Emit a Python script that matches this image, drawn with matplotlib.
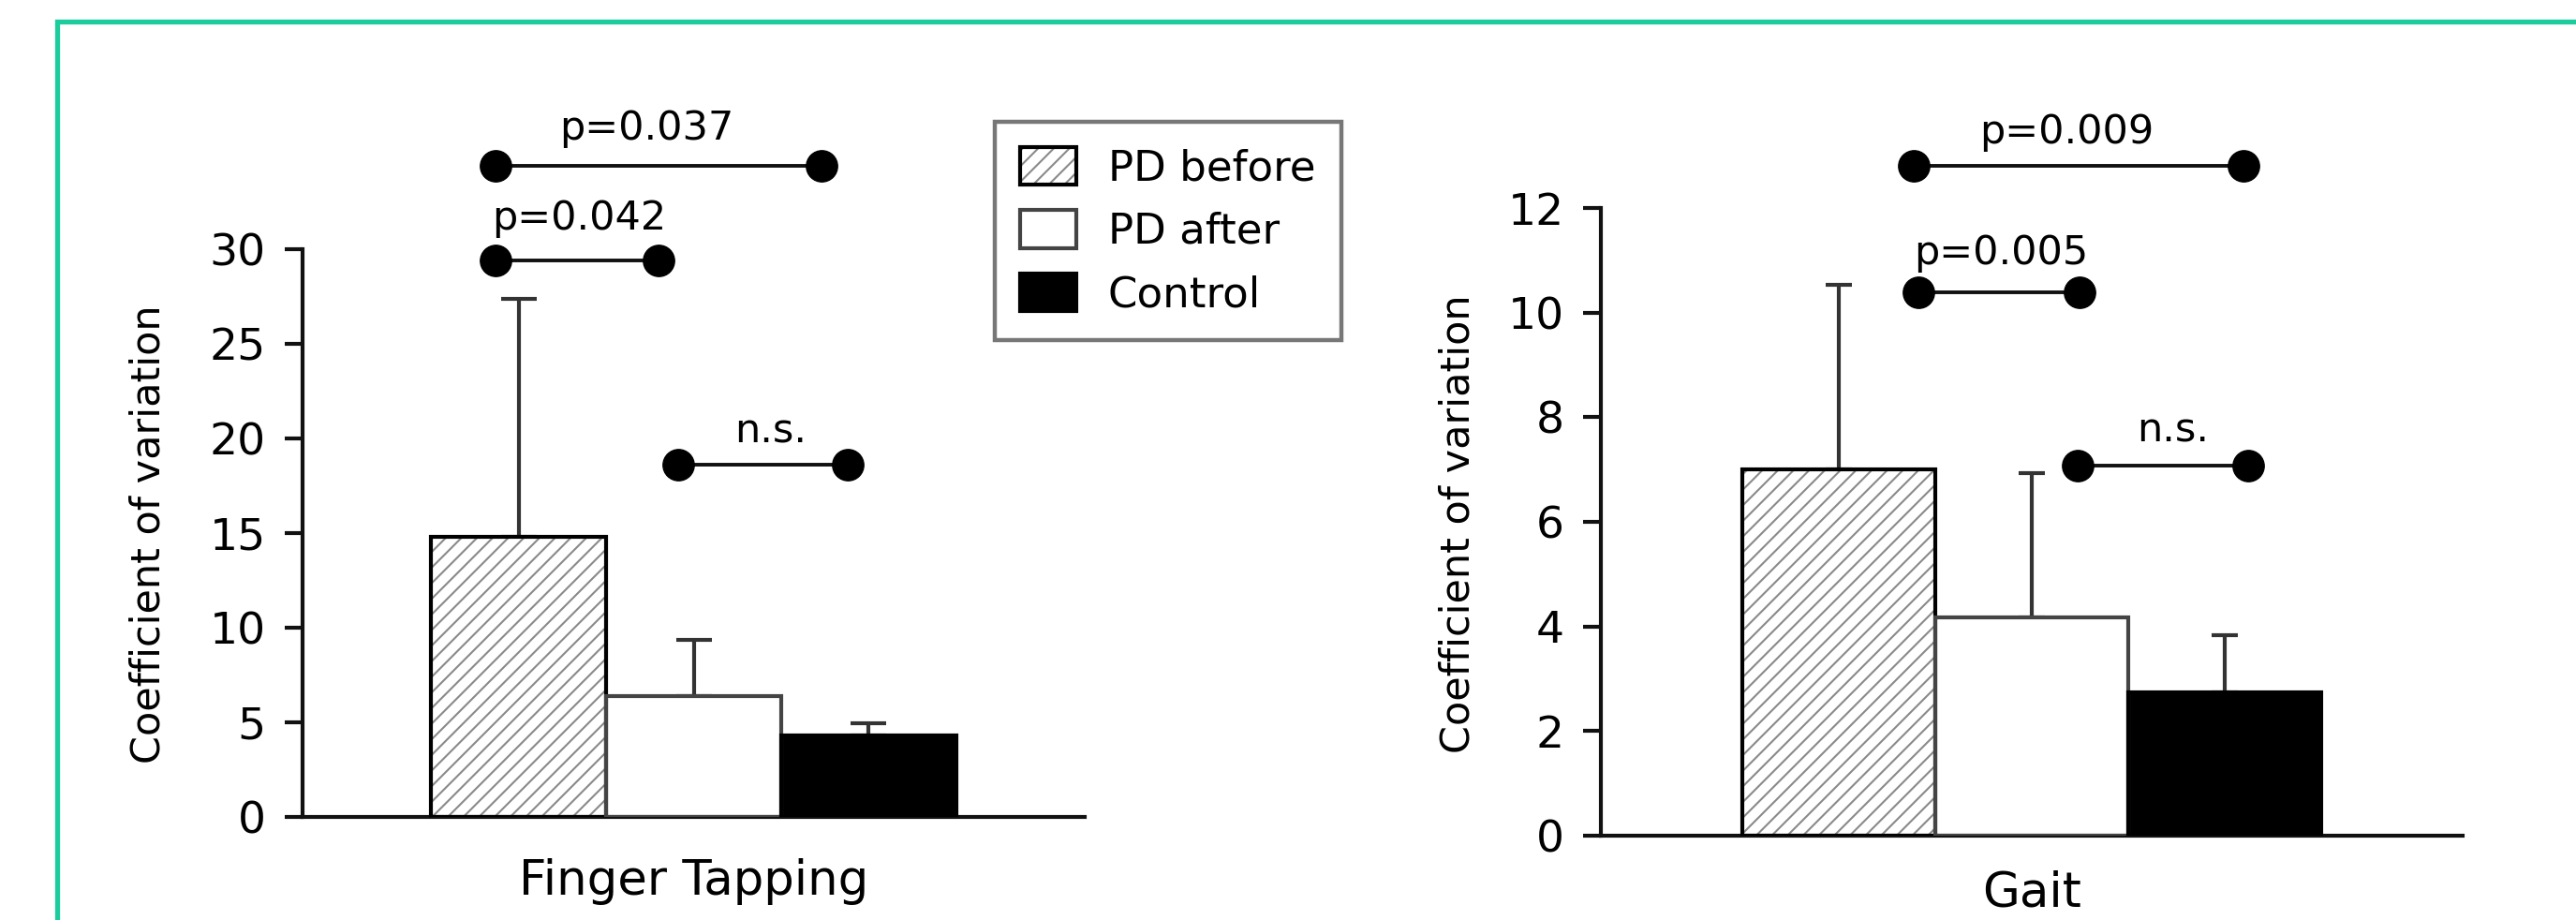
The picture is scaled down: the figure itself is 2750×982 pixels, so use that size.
import matplotlib
matplotlib.use("Agg")
import matplotlib.pyplot as plt
from matplotlib.patches import Patch, Rectangle
import numpy as np

# ---------------- data ----------------
groups = ["PD before", "PD after", "Control"]
tapping_mean = [14.8, 6.4, 4.3]
tapping_err = [12.6, 2.95, 0.65]
gait_mean = [7.0, 4.18, 2.74]
gait_err = [3.54, 2.75, 1.1]
tapping_ticks = [0, 5, 10, 15, 20, 25, 30]
gait_ticks = [0, 2, 4, 6, 8, 10, 12]
tapping_p = ["p=0.037", "p=0.042", "n.s."]
gait_p = ["p=0.009", "p=0.005", "n.s."]
panel_titles = ["Finger Tapping", "Gait"]
ylabel = "Coefficient of variation"

# ---------------- layout / style ----------------
W, H = 2750, 982
plt.rcParams["font.family"] = ["DejaVu Sans"]
plt.rcParams["hatch.linewidth"] = 1.5

fig = plt.figure(figsize=(W / 100, H / 100), dpi=100)
fig.patch.set_facecolor("white")

# teal frame (left and top visible)
fig.patches.append(Rectangle((60.5 / W, -0.5), 1.5, 1.5 - 22.5 / H,
                             transform=fig.transFigure, fill=False,
                             edgecolor="#1dcc9c", linewidth=3.8, zorder=0))

axL = fig.add_axes([323 / W, (H - 872) / H, 835 / W, 606 / H])
axR = fig.add_axes([1709 / W, (H - 892) / H, 920 / W, 670 / H])

x = np.arange(len(groups))
fills = ["white", "white", "black"]
outline_cols = ["black", "#444444", "black"]
hatches = ["//", "", ""]


def draw_panel(ax, means, errs, ticks, capsize):
    base = ax.bar(x, means, width=1.0, color=fills, edgecolor="#8a8a8a",
                  linewidth=0, zorder=2)
    for p, h in zip(base, hatches):
        p.set_hatch(h)
    ax.bar(x, means, width=1.0, fill=False, edgecolor=outline_cols,
           linewidth=3, zorder=3)
    ax.errorbar(x, means, yerr=[np.zeros(len(means)), errs], fmt="none",
                ecolor="#333333", elinewidth=3.0, capsize=capsize,
                capthick=3.0, zorder=1)
    ax.set_xlim(-1.235, 3.235)
    ax.set_ylim(ticks[0], ticks[-1])
    ax.set_yticks(ticks)
    ax.set_xticks([])
    for s in ["top", "right"]:
        ax.spines[s].set_visible(False)
    for s in ["left", "bottom"]:
        ax.spines[s].set_linewidth(3)
        ax.spines[s].set_color("#111111")
    ax.tick_params(axis="y", direction="out", length=13.7, width=3,
                   pad=14.5, labelsize=34, color="#111111")
    ax.set_facecolor("none")
    return base


barsL = draw_panel(axL, tapping_mean, tapping_err, tapping_ticks, 13.7)
barsR = draw_panel(axR, gait_mean, gait_err, gait_ticks, 10.4)

# axis labels
axL.set_ylabel(ylabel, fontsize=31, va="center")
axL.yaxis.set_label_coords(-0.1976, 0.498)
axR.set_ylabel(ylabel, fontsize=31, va="center")
axR.yaxis.set_label_coords(-0.166, 0.497)
axL.set_xlabel(panel_titles[0], fontsize=37, va="baseline")
axL.xaxis.set_label_coords(0.5, -0.137)
axR.set_xlabel(panel_titles[1], fontsize=37, va="baseline")
axR.xaxis.set_label_coords(0.5, -0.112)

# significance brackets: (x1, x2, y_line, x_text, y_text)
brL = [(-0.13, 1.73, 34.4, 0.73, 35.8),
       (-0.13, 0.80, 29.4, 0.345, 31.04),
       (0.91, 1.88, 18.6, 1.44, 19.8)]
brR = [(0.39, 2.10, 12.81, 1.18, 13.24),
       (0.41, 1.25, 10.38, 0.84, 10.93),
       (1.24, 2.12, 7.08, 1.73, 7.54)]


def draw_brackets(ax, brs, labels):
    for (x1, x2, yl, xt, yt), lab in zip(brs, labels):
        ax.plot([x1, x2], [yl, yl], color="#111111", lw=2.8, marker="o",
                markersize=24, markerfacecolor="black",
                markeredgecolor="black", clip_on=False, zorder=5)
        ax.text(xt, yt, lab, ha="center", va="baseline", fontsize=31,
                clip_on=False)


draw_brackets(axL, brL, tapping_p)
draw_brackets(axR, brR, gait_p)

# legend
h_before = (Patch(facecolor="white", edgecolor="#8a8a8a", hatch="//", linewidth=0),
            Patch(fill=False, edgecolor="black", linewidth=3))
h_after = Patch(facecolor="white", edgecolor="#444444", linewidth=3)
h_ctrl = Patch(facecolor="black", edgecolor="black", linewidth=3)
leg = fig.legend([h_before, h_after, h_ctrl], groups,
                 loc="upper left", bbox_to_anchor=(1062 / W, 1 - 130 / H),
                 bbox_transform=fig.transFigure, borderaxespad=0,
                 fontsize=32.5, frameon=True, fancybox=False,
                 handlelength=1.33, handleheight=1.0, handletextpad=0.75,
                 borderpad=0.6, labelspacing=0.5)
leg.get_frame().set_edgecolor("#555555")
leg.get_frame().set_linewidth(3.2)

fig.savefig("out.png", dpi=100, facecolor="white")
